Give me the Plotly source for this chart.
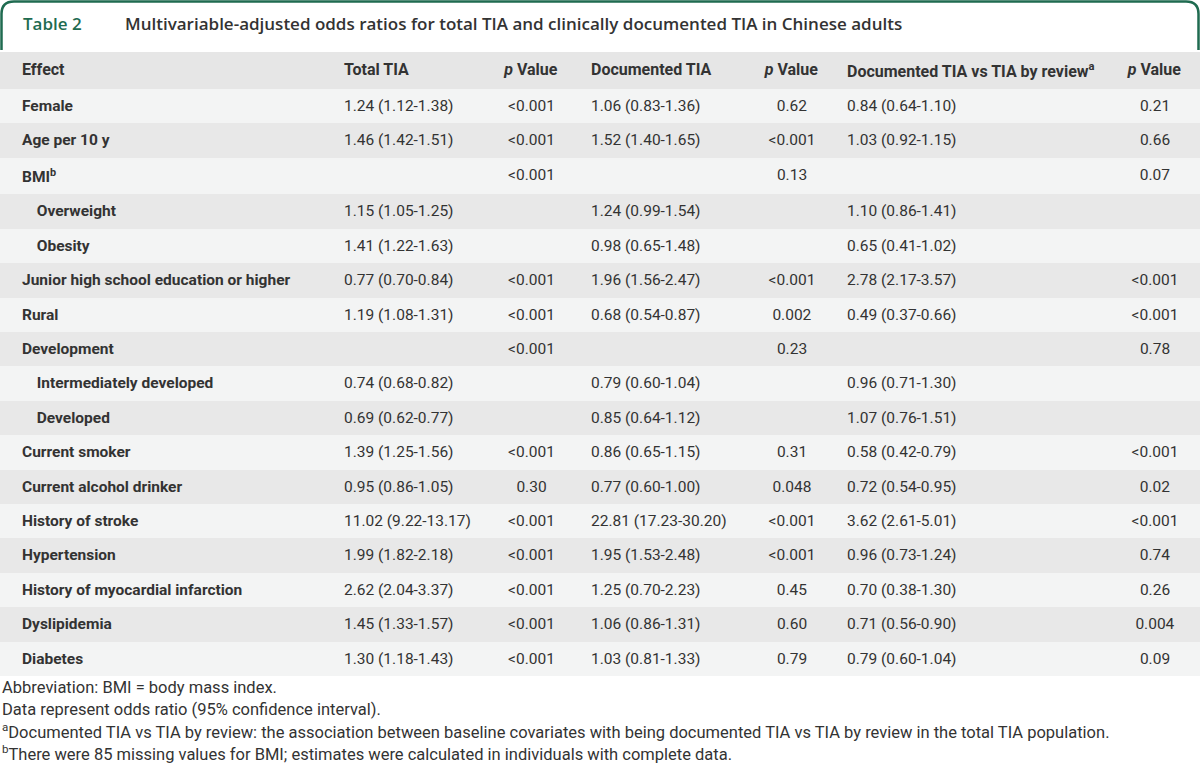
import plotly.graph_objects as go

W, H = 1200, 778

effects = ["Female", "Age per 10 y", "BMI<sup>b</sup>", "Overweight", "Obesity",
           "Junior high school education or higher", "Rural", "Development",
           "Intermediately developed", "Developed", "Current smoker",
           "Current alcohol drinker", "History of stroke", "Hypertension",
           "History of myocardial infarction", "Dyslipidemia", "Diabetes"]
indented = ["Overweight", "Obesity", "Intermediately developed", "Developed"]

total_tia = ["1.24 (1.12-1.38)", "1.46 (1.42-1.51)", "", "1.15 (1.05-1.25)", "1.41 (1.22-1.63)",
             "0.77 (0.70-0.84)", "1.19 (1.08-1.31)", "", "0.74 (0.68-0.82)", "0.69 (0.62-0.77)",
             "1.39 (1.25-1.56)", "0.95 (0.86-1.05)", "11.02 (9.22-13.17)", "1.99 (1.82-2.18)",
             "2.62 (2.04-3.37)", "1.45 (1.33-1.57)", "1.30 (1.18-1.43)"]
p_total = ["<0.001", "<0.001", "<0.001", "", "", "<0.001", "<0.001", "<0.001", "", "",
           "<0.001", "0.30", "<0.001", "<0.001", "<0.001", "<0.001", "<0.001"]
documented_tia = ["1.06 (0.83-1.36)", "1.52 (1.40-1.65)", "", "1.24 (0.99-1.54)", "0.98 (0.65-1.48)",
                  "1.96 (1.56-2.47)", "0.68 (0.54-0.87)", "", "0.79 (0.60-1.04)", "0.85 (0.64-1.12)",
                  "0.86 (0.65-1.15)", "0.77 (0.60-1.00)", "22.81 (17.23-30.20)", "1.95 (1.53-2.48)",
                  "1.25 (0.70-2.23)", "1.06 (0.86-1.31)", "1.03 (0.81-1.33)"]
p_documented = ["0.62", "<0.001", "0.13", "", "", "<0.001", "0.002", "0.23", "", "",
                "0.31", "0.048", "<0.001", "<0.001", "0.45", "0.60", "0.79"]
doc_vs_review = ["0.84 (0.64-1.10)", "1.03 (0.92-1.15)", "", "1.10 (0.86-1.41)", "0.65 (0.41-1.02)",
                 "2.78 (2.17-3.57)", "0.49 (0.37-0.66)", "", "0.96 (0.71-1.30)", "1.07 (0.76-1.51)",
                 "0.58 (0.42-0.79)", "0.72 (0.54-0.95)", "3.62 (2.61-5.01)", "0.96 (0.73-1.24)",
                 "0.70 (0.38-1.30)", "0.71 (0.56-0.90)", "0.79 (0.60-1.04)"]
p_review = ["0.21", "0.66", "0.07", "", "", "<0.001", "<0.001", "0.78", "", "",
            "<0.001", "0.02", "<0.001", "0.74", "0.26", "0.004", "0.09"]

headers = ["", "Effect", "Total TIA", "<i>p</i> Value", "Documented TIA", "<i>p</i> Value",
           "Documented TIA vs TIA by review<sup>a</sup>", "<i>p</i> Value"]

footnotes = ["Abbreviation: BMI = body mass index.",
             "Data represent odds ratio (95% confidence interval).",
             "<sup>a</sup>Documented TIA vs TIA by review: the association between baseline covariates "
             "with being documented TIA vs TIA by review in the total TIA population.",
             "<sup>b</sup>There were 85 missing values for BMI; estimates were calculated in "
             "individuals with complete data."]

GREEN = "#1f6b50"
TEXT = "#333333"
FONT = "Roboto"


def px_x(x):
    return x / W


def px_y(y):
    return 1 - y / H


def fmt_val(v):
    # nbsp keeps the table from wrapping; the tag keeps all cells on the same baseline
    if not v:
        return ""
    return "<span>" + v.replace("<", "&lt;").replace(" ", "\u00a0") + "</span>"


def fmt_effect(e):
    pad = "\u00a0\u00a0\u00a0\u2009" if e in indented else ""
    return "<b>" + pad + e + "</b>"


row_fill = ["#f3f4f4" if i % 2 == 0 else "#e8e8e8" for i in range(len(effects))]

columns = [
    [""] * len(effects),
    [fmt_effect(e) for e in effects],
    [fmt_val(v) for v in total_tia],
    [fmt_val(v) for v in p_total],
    [fmt_val(v) for v in documented_tia],
    [fmt_val(v) for v in p_documented],
    [fmt_val(v) for v in doc_vs_review],
    [fmt_val(v) for v in p_review],
]
aligns = ["left", "left", "left", "center", "left", "center", "left", "center"]

fig = go.Figure()

fig.add_trace(go.Table(
    domain=dict(x=[0, 1], y=[0.08, px_y(52)]),
    columnwidth=[14, 322, 144, 103, 162, 94, 271, 90],
    header=dict(
        values=["<b>" + h + "</b>" if h else "" for h in headers],
        fill_color="#e6e6e6",
        line=dict(width=0, color="rgba(0,0,0,0)"),
        align=aligns,
        font=dict(family=FONT, size=16, color=TEXT),
        height=37,
    ),
    cells=dict(
        values=columns,
        fill_color=[row_fill] * len(columns),
        line=dict(width=0, color="rgba(0,0,0,0)"),
        align=aligns,
        font=dict(family=FONT, size=15.5, color=TEXT),
        height=34.4,
    ),
))

# title tab with rounded green border
fig.add_shape(
    type="path",
    xref="paper", yref="paper",
    path=(f"M {px_x(1.5)},{px_y(50)} L {px_x(1.5)},{px_y(14)} "
          f"Q {px_x(1.5)},{px_y(1.5)} {px_x(14)},{px_y(1.5)} "
          f"L {px_x(1186)},{px_y(1.5)} Q {px_x(1198.5)},{px_y(1.5)} {px_x(1198.5)},{px_y(14)} "
          f"L {px_x(1198.5)},{px_y(50)}"),
    line=dict(color=GREEN, width=2.5),
)

fig.add_annotation(
    x=px_x(21), y=px_y(24), xref="paper", yref="paper",
    xanchor="left", yanchor="middle", showarrow=False,
    text="Table 2",
    font=dict(family="Open Sans", size=17, color=GREEN, weight=600),
)
fig.add_annotation(
    x=px_x(123), y=px_y(24), xref="paper", yref="paper",
    xanchor="left", yanchor="middle", showarrow=False,
    text="Multivariable-adjusted odds ratios for total TIA and clinically documented TIA in Chinese adults",
    font=dict(family="Open Sans", size=17, color=TEXT, weight=600),
)

for i, note in enumerate(footnotes):
    fig.add_annotation(
        x=0, y=px_y(687 + 22 * i), xref="paper", yref="paper",
        xanchor="left", yanchor="middle", showarrow=False,
        text=note,
        font=dict(family=FONT, size=16.5, color=TEXT),
    )

fig.update_layout(
    width=W, height=H,
    margin=dict(l=0, r=0, t=0, b=0),
    paper_bgcolor="white",
    plot_bgcolor="white",
)

fig.write_html("out.html", config={"displayModeBar": False},
               post_script="document.body.style.margin='0';")
